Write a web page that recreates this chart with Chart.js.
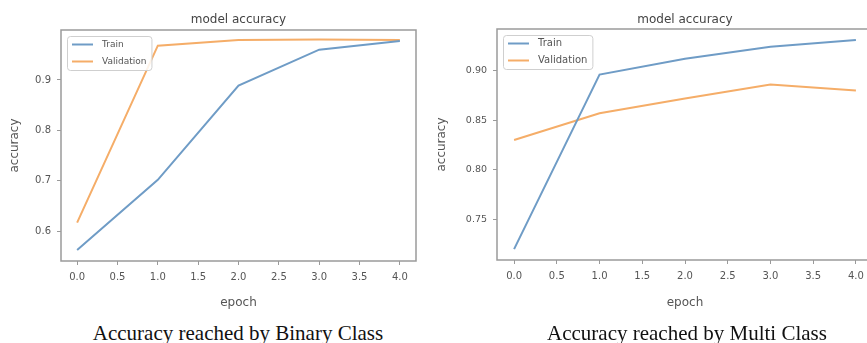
<!DOCTYPE html>
<html>
<head>
<meta charset="utf-8">
<script src="https://cdn.jsdelivr.net/npm/chart.js@4"></script>
<style>
    html, body { margin: 0; padding: 0; background: #fff; overflow: hidden; }
    body { width: 867px; height: 343px; position: relative; }
    .chart { position: absolute; top: 0; }
    .caption {
        position: absolute;
        top: 321px;
        font-family: "Liberation Serif", "Times New Roman", serif;
        font-size: 21px;
        line-height: normal;
        color: #111;
        white-space: nowrap;
        transform: translateX(-50%);
    }
</style>
</head>
<body>
<div class="chart" style="left:0px;width:440px;height:310px"><canvas id="binaryChart"></canvas></div>
<div class="chart" style="left:430px;width:450px;height:310px"><canvas id="multiChart"></canvas></div>
<div class="caption" style="left:238px">Accuracy reached by Binary Class</div>
<div class="caption" style="left:687px">Accuracy reached by Multi Class</div>
<script>
// epochs and values
const epochs = [0, 1, 2, 3, 4];
const xTicks = [0, 0.5, 1, 1.5, 2, 2.5, 3, 3.5, 4];

const binaryTrain = [0.563, 0.702, 0.889, 0.960, 0.977];
const binaryVal = [0.617, 0.968, 0.979, 0.980, 0.979];
const binaryYTicks = [0.6, 0.7, 0.8, 0.9];

const multiTrain = [0.720, 0.896, 0.912, 0.924, 0.931];
const multiVal = [0.830, 0.857, 0.872, 0.886, 0.880];
const multiYTicks = [0.75, 0.80, 0.85, 0.90];

const BLUE = '#6f9cc6';
const ORANGE = '#f5ad68';
const TEXT = '#555';
const FRAME = '#9a9a9a';
const FONT = 'DejaVu Sans';

// matplotlib look: box round the plot, title over the plot, legend inside top-left
const mplLook = {
    id: 'mplLook',
    afterDraw(chart, args, opts) {
        const { ctx, chartArea: a } = chart;
        ctx.save();

        ctx.strokeStyle = FRAME;
        ctx.lineWidth = 1.5;
        ctx.strokeRect(a.left, a.top, a.right - a.left, a.bottom - a.top);

        ctx.fillStyle = '#444';
        ctx.font = '12px ' + FONT;
        ctx.textAlign = 'center';
        ctx.textBaseline = 'middle';
        ctx.fillText('model accuracy', (a.left + a.right) / 2, 20);

        // legend
        ctx.font = opts.legendSize + 'px ' + FONT;
        const sets = chart.data.datasets;
        const textW = Math.max(...sets.map(d => ctx.measureText(d.label).width));
        const x0 = a.left + 6, y0 = a.top + 6;
        const pad = 5, lineLen = 21, gap = 9, rowH = 17;
        const w = pad + lineLen + gap + textW + pad;
        const h = rowH * sets.length;
        ctx.fillStyle = 'rgba(255,255,255,0.85)';
        ctx.strokeStyle = '#cfcfcf';
        ctx.lineWidth = 1;
        ctx.beginPath();
        ctx.roundRect(x0 + 0.5, y0 + 0.5, w, h, 3);
        ctx.fill();
        ctx.stroke();
        ctx.textAlign = 'left';
        sets.forEach((d, i) => {
            const cy = y0 + 8.5 + i * rowH;
            ctx.strokeStyle = d.borderColor;
            ctx.lineWidth = 2;
            ctx.beginPath();
            ctx.moveTo(x0 + pad, cy);
            ctx.lineTo(x0 + pad + lineLen, cy);
            ctx.stroke();
            ctx.fillStyle = TEXT;
            ctx.fillText(d.label, x0 + pad + lineLen + gap, cy);
        });
        ctx.restore();
    }
};

function makeChart(id, train, val, yTicks, yMin, yMax, box) {
    const ds = (label, data, color) => ({
        label,
        data: epochs.map((e, i) => ({ x: e, y: data[i] })),
        borderColor: color,
        backgroundColor: color,
        borderWidth: 2,
        pointRadius: 0,
        tension: 0
    });

    return new Chart(document.getElementById(id), {
        type: 'line',
        data: {
            datasets: [ds('Train', train, BLUE), ds('Validation', val, ORANGE)]
        },
        options: {
            responsive: true,
            maintainAspectRatio: false,
            animation: false,
            layout: { padding: { left: 0, right: box.padRight, top: box.top, bottom: 0 } },
            plugins: {
                legend: { display: false },
                tooltip: { enabled: false },
                mplLook: { legendSize: box.legendSize }
            },
            scales: {
                x: {
                    type: 'linear',
                    min: -0.2,
                    max: 4.2,
                    afterBuildTicks: s => { s.ticks = xTicks.map(v => ({ value: v })); },
                    afterFit: s => { s.height = 310 - box.bottom; },
                    grid: { display: true, drawOnChartArea: false, tickLength: 4, color: FRAME },
                    border: { display: false },
                    ticks: {
                        padding: 6,
                        color: TEXT,
                        maxRotation: 0,
                        font: { family: FONT, size: 10 },
                        callback: v => v.toFixed(1)
                    },
                    title: {
                        display: true,
                        text: 'epoch',
                        color: TEXT,
                        font: { family: FONT, size: 12 },
                        padding: { top: 0, bottom: 0 }
                    }
                },
                y: {
                    min: yMin,
                    max: yMax,
                    afterBuildTicks: s => { s.ticks = yTicks.map(v => ({ value: v })); },
                    afterFit: s => { s.width = box.left; },
                    grid: { display: true, drawOnChartArea: false, tickLength: 4, color: FRAME },
                    border: { display: false },
                    ticks: {
                        padding: 6,
                        color: TEXT,
                        font: { family: FONT, size: box.tickSize },
                        callback: v => v.toFixed(box.dec)
                    },
                    title: {
                        display: true,
                        text: 'accuracy',
                        color: TEXT,
                        font: { family: FONT, size: 12 },
                        padding: { top: box.titlePad, bottom: 0 }
                    }
                }
            }
        },
        plugins: [mplLook]
    });
}

makeChart('binaryChart', binaryTrain, binaryVal, binaryYTicks, 0.541, 0.999,
    { left: 61, top: 30, bottom: 261, padRight: 24, dec: 1, titlePad: 8, tickSize: 10, legendSize: 9 });
makeChart('multiChart', multiTrain, multiVal, multiYTicks, 0.709, 0.942,
    { left: 67, top: 29, bottom: 260, padRight: 7, dec: 2, titlePad: 5, tickSize: 9.5, legendSize: 10 });
</script>
</body>
</html>
